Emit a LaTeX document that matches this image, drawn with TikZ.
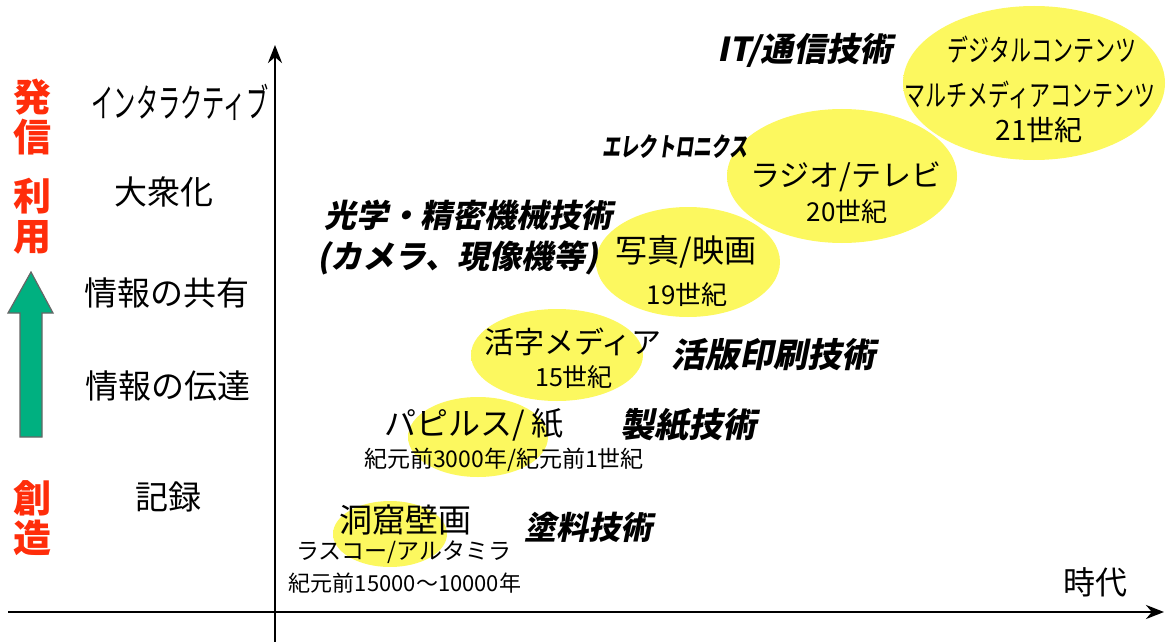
\documentclass[tikz,border=0pt]{standalone}
\usepackage{fontspec}
\setmainfont{Noto Sans CJK JP}
\newfontfamily\jpsl{Noto Sans CJK JP}[FakeSlant=0.2]
\usepackage{graphicx}
\usetikzlibrary{shapes.geometric, arrows.meta}
\usepackage{xcolor}
\definecolor{erared}{RGB}{255, 45, 10}
\definecolor{upgreen}{RGB}{0, 176, 128}
\definecolor{erayellow}{RGB}{252, 248, 95}
\definecolor{erapale}{RGB}{250, 248, 200}
\pgfdeclareradialshading{eraball}{\pgfpoint{0bp}{0bp}}{color(0bp)=(erayellow); color(30bp)=(erayellow); color(50bp)=(erapale); color(75bp)=(erapale)}
\newcommand{\sz}[1]{\fontsize{#1pt}{#1pt}\selectfont}
\newcommand{\narrow}[2][0.7]{\scalebox{#1}[1]{#2}}

\begin{document}
\begin{tikzpicture}[
  x=0.5pt, y=-0.5pt,
  lbl/.style={inner sep=0, font=\sz{16.5}},
  tech/.style={inner sep=0, font=\jpsl\bfseries\sz{16.5}},
  side/.style={inner sep=0, align=center, text=erared, font=\bfseries\fontsize{19pt}{20pt}\selectfont},
  era/.style={ellipse, inner sep=0, shading=eraball},
  axis/.style={-{Stealth[length=9pt, width=7pt]}, line width=1.4pt}
]
\useasboundingbox (0,0) rectangle (1172,642);

% axes
\coordinate (xfrom) at (8,612);
\coordinate (xto) at (1164,612);
\coordinate (yfrom) at (275,642);
\coordinate (yto) at (275,45);
\draw[axis] (xfrom) -- (xto);
\draw[axis] (yfrom) -- (yto);

% left side
\node[side] (hassin) at (32,117) {発\\信};
\node[side] (riyou) at (32,216) {利\\用};
\node[side] (souzou) at (32,518) {創\\造};
\draw[fill=upgreen, draw=black!60, line width=0.6pt]
  (31,272) -- (53,313) -- (42,313) -- (42,437) -- (20,437) -- (20,313) -- (8,313) -- cycle;

\node[lbl] (inter) at (180,102) {\narrow[0.57]{\sz{19.5}インタラクティブ}};
\node[lbl] (taishu) at (164,192) {大衆化};
\node[lbl] (kyouyu) at (167,293) {情報の共有};
\node[lbl] (dentatsu) at (168,386) {情報の伝達};
\node[lbl] (kiroku) at (168,497) {記録};
\node[lbl, font=\sz{16}] (jidai) at (1095,582) {時代};

% eras
\node[era, minimum width=57pt, minimum height=33pt] (e1) at (390,534) {};
\node[era, minimum width=70pt, minimum height=40pt] (e2) at (478,437) {};
\node[era, minimum width=86pt, minimum height=46pt] (e3) at (557,355) {};
\node[era, minimum width=92pt, minimum height=55pt] (e4) at (688,262) {};
\node[era, minimum width=115pt, minimum height=67pt] (e5) at (842,176) {};
\node[era, minimum width=131pt, minimum height=77pt] (e6) at (1034,83) {};

\node[lbl] (doukutsu) at (405,520) {洞窟壁画};
\node[lbl, font=\sz{11.5}] (lascaux) at (404,552) {ラスコー/アルタミラ};
\node[lbl, font=\sz{11}] (bc15000) at (405,583) {紀元前15000〜10000年};
\node[lbl, font=\sz{16}] (papyrus) at (474,425) {パピルス/ 紙};
\node[lbl, font=\sz{11.5}] (bc3000) at (504,460) {紀元前3000年/紀元前1世紀};
\node[lbl, font=\sz{15}] (katsuji) at (573,342) {活字メディア};
\node[lbl, font=\sz{12.5}] (c15) at (574,377) {15世紀};
\node[lbl, font=\sz{16}] (shashin) at (686,252) {写真/映画};
\node[lbl, font=\sz{13}] (c19) at (687,295) {19世紀};
\node[lbl, font=\sz{15}] (radio) at (846,177) {ラジオ/テレビ};
\node[lbl, font=\sz{13}] (c20) at (847,212) {20世紀};
\node[lbl] (digital) at (1042,50) {\narrow{\sz{15}デジタルコンテンツ}};
\node[lbl] (multi) at (1030,95) {\narrow{\sz{15}マルチメディアコンテンツ}};
\node[lbl, font=\sz{14}] (c21) at (1039,130) {21世紀};

% technologies
\node[tech] (it) at (805,50) {IT/通信技術};
\node[tech] (elec) at (675,147) {\narrow{\sz{13}エレクトロニクス}};
\node[tech, font=\jpsl\bfseries\sz{16}] (kougaku) at (468,215) {光学・精密機械技術};
\node[tech, font=\jpsl\bfseries\sz{16}] (camera) at (458,258) {(カメラ、現像機等)};
\node[tech, font=\jpsl\bfseries\sz{17}] (kappan) at (773,355) {活版印刷技術};
\node[tech, font=\jpsl\bfseries\sz{17}] (seishi) at (688,425) {製紙技術};
\node[tech, font=\jpsl\bfseries\sz{16}] (toryou) at (588,527) {塗料技術};
\end{tikzpicture}
\end{document}
